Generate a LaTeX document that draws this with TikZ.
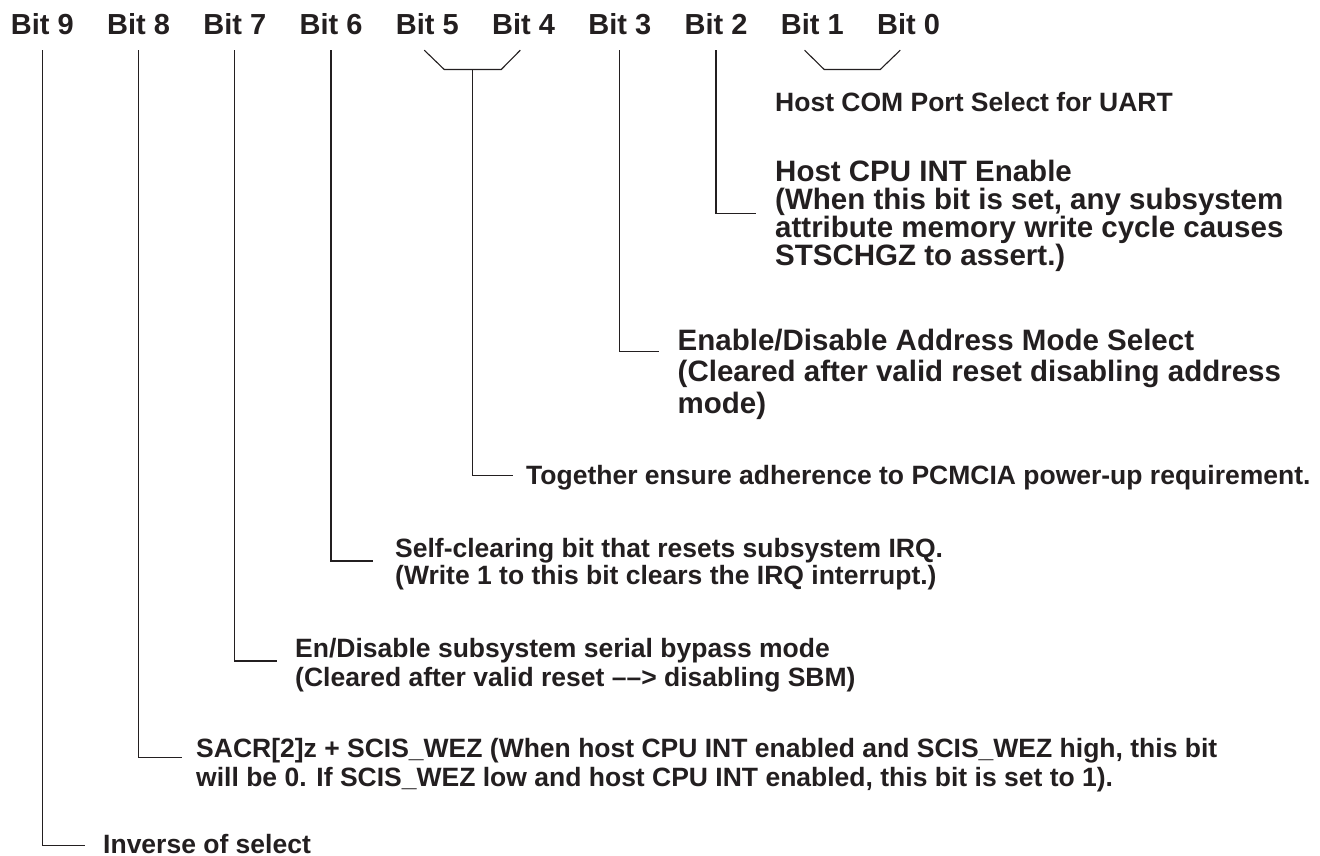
\documentclass[tikz,border=0pt]{standalone}
\usepackage{fontspec}
\setmainfont{Liberation Sans}
\usepackage{xcolor}
\usepackage{tikz}
\usetikzlibrary{positioning, calc}
\definecolor{ink}{HTML}{231F20}
\setlength{\lineskiplimit}{-20pt}

\begin{document}
\begin{tikzpicture}[
    x=1pt, y=-1pt,
    node distance=33pt,
    bit/.style={
        inner sep=0pt,
        text depth=0pt,
        text=ink,
        font=\bfseries\fontsize{29}{32}\selectfont
    },
    note/.style={
        anchor=base west,
        inner sep=0pt,
        align=left,
        text=ink,
        font=\bfseries\fontsize{26.5}{29.5}\selectfont
    },
    bignote/.style={
        note,
        font=\bfseries\fontsize{29.5}{31.7}\selectfont
    },
    lead/.style={draw=ink, line width=1.1pt, shorten <=15pt},
    fork/.style={draw=ink, line width=1.1pt}
]
    \useasboundingbox (0,0) rectangle (1320,856);

    % Bit labels along the top row
    \node [bit, anchor=base] (b9) at (42.3,35) {Bit 9};
    \node [bit, base right=of b9] (b8) {Bit 8};
    \node [bit, base right=of b8] (b7) {Bit 7};
    \node [bit, base right=of b7] (b6) {Bit 6};
    \node [bit, base right=of b6] (b5) {Bit 5};
    \node [bit, base right=of b5] (b4) {Bit 4};
    \node [bit, base right=of b4] (b3) {Bit 3};
    \node [bit, base right=of b3] (b2) {Bit 2};
    \node [bit, base right=of b2] (b1) {Bit 1};
    \node [bit, base right=of b1] (b0) {Bit 0};

    % Descriptions (anchored on the baseline of their last line)
    \node [note] (com) at (775,112) {Host COM Port Select for UART};
    \node [bignote, font=\bfseries\fontsize{29.5}{27.8}\selectfont] (cpu) at (775,265)
        {Host CPU INT Enable\\(When this bit is set, any subsystem\\attribute memory write cycle causes\\STSCHGZ to assert.)};
    \node [bignote] (addr) at (677.5,413.4)
        {Enable/Disable Address Mode Select\\(Cleared after valid reset disabling address\\mode)};
    \node [note] (pwr) at (526,484) {Together ensure adherence to PCMCIA power-up requirement.};
    \node [note, font=\bfseries\fontsize{26.5}{27.7}\selectfont] (irq) at (395,584.7)
        {Self-clearing bit that resets subsystem IRQ.\\(Write 1 to this bit clears the IRQ interrupt.)};
    \node [note] (sbm) at (295,686.8)
        {En/Disable subsystem serial bypass mode\\(Cleared after valid reset ––> disabling SBM)};
    \node [note] (wez) at (196,786.5)
        {SACR[2]z + SCIS\_WEZ (When host CPU INT enabled and SCIS\_WEZ high, this bit\\will be 0. If SCIS\_WEZ low and host CPU INT enabled, this bit is set to 1).};
    \node [note] (inv) at (103,853.5) {Inverse of select};

    % Elbow ends just left of each description
    \coordinate (k9) at (85,845.7);
    \coordinate (k8) at (181.7,757.7);
    \coordinate (k7) at (276.7,661);
    \coordinate (k6) at (372.7,561);
    \coordinate (k54) at (513.3,475.7);
    \coordinate (k3) at (659.3,351.7);
    \coordinate (k2) at (756,213.3);

    % Brackets joining bit pairs
    \draw [fork] ([shift={(-3,15)}]b5.south) -- ++(20,19.3) -- ++(28.5,0) coordinate (j54)
        -- ++(28.5,0) -- ++(19,-19.3);
    \draw [fork] ([shift={(-7.7,15)}]b1.south) -- ++(19.7,19.3) -- ++(56,0) -- ++(20,-19.3);

    % Leader lines down to the descriptions
    \draw [lead] (b9.south) |- (k9);
    \draw [lead] (b8.south) |- (k8);
    \draw [lead] (b7.south) |- (k7);
    \draw [lead] (b6.south) |- (k6);
    \draw [fork] (j54) |- (k54);
    \draw [lead] (b3.south) |- (k3);
    \draw [lead] (b2.south) |- (k2);

\end{tikzpicture}
\end{document}
